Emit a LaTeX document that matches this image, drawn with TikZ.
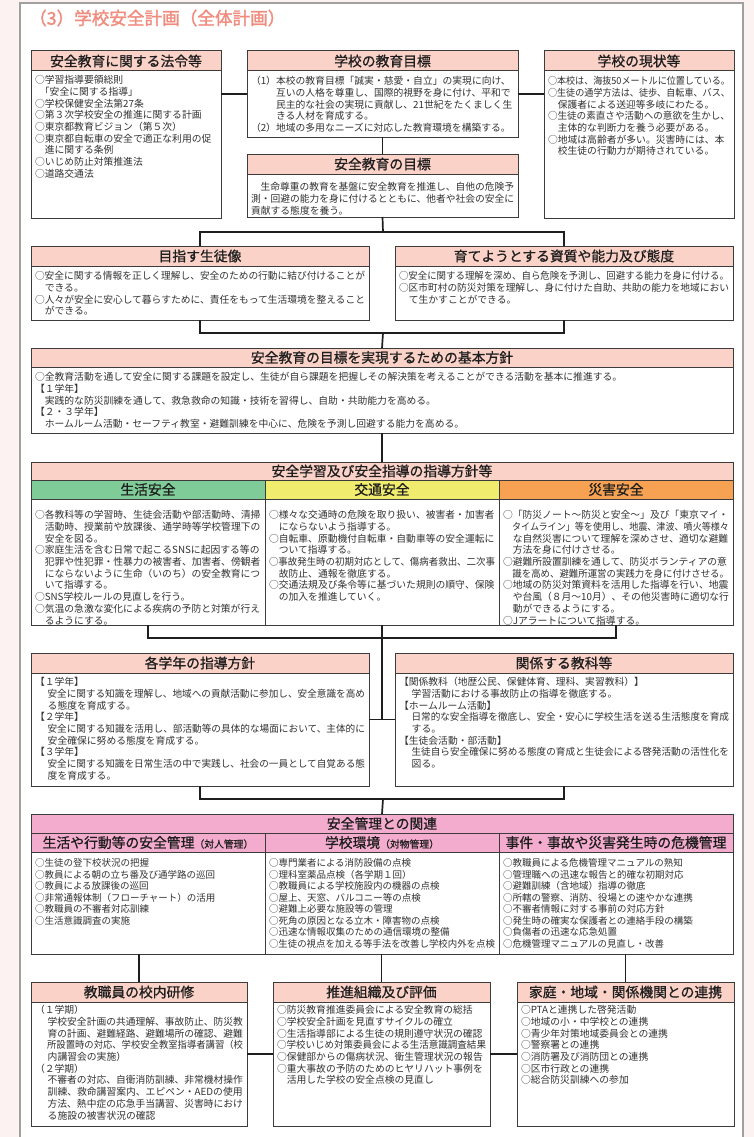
\documentclass[tikz,border=0pt]{standalone}
\usepackage{fontspec}
\usepackage{graphicx}
\setmainfont{Noto Sans CJK JP}
\newfontfamily\hdfont[FakeBold=0.8]{Noto Sans CJK JP}
\newfontfamily\ttlfont[FakeBold=1.6]{Noto Sans CJK JP}
\definecolor{bgpink}{RGB}{252,242,242}
\definecolor{framec}{RGB}{160,160,160}
\definecolor{boxc}{RGB}{60,60,60}
\definecolor{headc}{RGB}{251,210,200}
\definecolor{pinkc}{RGB}{244,172,206}
\definecolor{greenc}{RGB}{128,204,152}
\definecolor{yellowc}{RGB}{240,236,110}
\definecolor{orangec}{RGB}{246,162,82}
\definecolor{titlec}{RGB}{240,140,125}
\definecolor{bodyc}{RGB}{50,50,50}
\definecolor{headtext}{RGB}{30,30,30}
\definecolor{connc}{RGB}{30,30,30}
\newlength\bw
\newsavebox\lbox
\newcommand\fl[1]{\sbox\lbox{#1}\ifdim\wd\lbox>\bw\resizebox{\bw}{\height}{\usebox\lbox}\else\usebox\lbox\fi}
\newcommand\ind{\hspace*{1em}}
\newcommand\indb{\hspace*{1.3em}}
\tikzset{
  boxst/.style={draw=boxc, line width=1pt, fill=white, inner sep=0pt, outer sep=0pt},
  headst/.style={draw=boxc, line width=1pt, fill=headc, inner sep=0pt, outer sep=0pt, text=headtext, font={\hdfont\fontsize{13.8}{16}\selectfont}},
  bodyt/.style={anchor=north west, inner sep=0pt, outer sep=0pt, align=left, text=bodyc, font={\fontsize{9.8}{11.7}\selectfont}},
  bodys/.style={bodyt, font={\fontsize{9.5}{11.5}\selectfont}},
  conn/.style={draw=connc, line width=1.7pt},
}
% [header style] name, x1, y1, x2, y2, header bottom
\newcommand\pbox[7][]{%
  \node[boxst, minimum width={(#5-#3)*1pt}, minimum height={(#6-#4)*1pt}] (#2) at ({(#3+#5)/2},{(#4+#6)/2}) {};
  \node[headst, #1, minimum width={(#5-#3)*1pt}, minimum height={(#7-#4)*1pt}] (#2h) at ({(#3+#5)/2},{(#4+#7)/2}) {\csname hd@#2\endcsname};
}
\newcommand\hd[2]{\expandafter\def\csname hd@#1\endcsname{#2}}
% [style] name, x, first-line centre y, width, lines
\newcommand\bodyat[6][bodyt]{\global\bw=#5pt\relax
  \node[#1] (#2) at (#3,{#4-4.9}) {\vrule height 8.6pt width 0pt\relax#6};}
\begin{document}
\begin{tikzpicture}[x=1pt,y=-1pt]
\useasboundingbox (0,0) rectangle (754,1137);
\fill[bgpink] (0,0) rectangle (754,1137);
\fill[white] (20,3) rectangle (743,1137);
\draw[framec, line width=2pt] (20,1140) -- (20,3) -- (743,3) -- (743,1140);

\node[anchor=west, inner sep=0pt, text=titlec, font={\ttlfont\fontsize{17.6}{19}\selectfont}] (title) at (29,18) {（3）学校安全計画（全体計画）};

% ---- top row
\hd{b1}{安全教育に関する法令等}
\pbox{b1}{31}{51}{221}{218}{71}
\hd{b2}{学校の教育目標}
\pbox{b2}{247}{51}{518}{137}{71}
\hd{b3}{安全教育の目標}
\pbox{b3}{247}{154}{518}{217}{174}
\hd{b4}{学校の現状等}
\pbox{b4}{544}{51}{734}{218}{71}

\bodyat{t1}{35}{80}{182}{%
\fl{○学習指導要領総則}\\
\fl{\hspace*{0.5em}「安全に関する指導」}\\
\fl{○学校保健安全法第27条}\\
\fl{○第３次学校安全の推進に関する計画}\\
\fl{○東京都教育ビジョン（第５次）}\\
\fl{○東京都自転車の安全で適正な利用の促}\\
\fl{\ind 進に関する条例}\\
\fl{○いじめ防止対策推進法}\\
\fl{○道路交通法}}

\bodyat{t2}{251}{81}{263}{%
\fl{（1）本校の教育目標「誠実・慈愛・自立」の実現に向け、}\\
\fl{\phantom{（1）}互いの人格を尊重し、国際的視野を身に付け、平和で}\\
\fl{\phantom{（1）}民主的な社会の実現に貢献し、21世紀をたくましく生}\\
\fl{\phantom{（1）}きる人材を育成する。}\\
\fl{（2）地域の多用なニーズに対応した教育環境を構築する。}}

\bodyat{t3}{251}{187}{263}{%
\fl{\ind 生命尊重の教育を基盤に安全教育を推進し、自他の危険予}\\
\fl{測・回避の能力を身に付けるとともに、他者や社会の安全に}\\
\fl{貢献する態度を養う。}}

\bodyat{t4}{548}{81}{182}{%
\fl{○本校は、海抜50メートルに位置している。}\\
\fl{○生徒の通学方法は、徒歩、自転車、バス、}\\
\fl{\ind 保護者による送迎等多岐にわたる。}\\
\fl{○生徒の素直さや活動への意欲を生かし、}\\
\fl{\ind 主体的な判断力を養う必要がある。}\\
\fl{○地域は高齢者が多い。災害時には、本}\\
\fl{\ind 校生徒の行動力が期待されている。}}

% ---- second row
\hd{m}{目指す生徒像}
\pbox{m}{31}{246}{369}{320}{266}
\hd{s}{育てようとする資質や能力及び態度}
\pbox{s}{395}{246}{733}{320}{266}

\bodyat{tm}{35}{276}{330}{%
\fl{○安全に関する情報を正しく理解し、安全のための行動に結び付けることが}\\
\fl{\ind できる。}\\
\fl{○人々が安全に安心して暮らすために、責任をもって生活環境を整えること}\\
\fl{\ind ができる。}}

\bodyat{ts}{399}{276}{330}{%
\fl{○安全に関する理解を深め、自ら危険を予測し、回避する能力を身に付ける。}\\
\fl{○区市町村の防災対策を理解し、身に付けた自助、共助の能力を地域におい}\\
\fl{\ind て生かすことができる。}}

% ---- basic policy
\hd{bp}{安全教育の目標を実現するための基本方針}
\pbox{bp}{31}{348}{733}{433}{367}
\bodyat{tbp}{35}{377}{694}{%
\fl{○全教育活動を通して安全に関する課題を設定し、生徒が自ら課題を把握しその解決策を考えることができる活動を基本に推進する。}\\
\fl{【１学年】}\\
\fl{\ind 実践的な防災訓練を通して、救急救命の知識・技術を習得し、自助・共助能力を高める。}\\
\fl{【２・３学年】}\\
\fl{\ind ホームルーム活動・セーフティ教室・避難訓練を中心に、危険を予測し回避する能力を高める。}}

% ---- safety learning
\hd{sl}{安全学習及び安全指導の指導方針等}
\pbox{sl}{31}{462}{733}{625}{480}
\node[headst, fill=greenc, minimum width=234pt, minimum height=19pt] (c1h) at (148,489.5) {生活安全};
\node[headst, fill=yellowc, minimum width=234pt, minimum height=19pt] (c2h) at (382,489.5) {交通安全};
\node[headst, fill=orangec, minimum width=234pt, minimum height=19pt] (c3h) at (616,489.5) {災害安全};
\node[boxst, minimum width=234pt, minimum height=126pt] (c1) at (148,562) {};
\node[boxst, minimum width=234pt, minimum height=126pt] (c2) at (382,562) {};
\node[boxst, minimum width=234pt, minimum height=126pt] (c3) at (616,562) {};

\bodyat{tc1}{35}{515}{226}{%
\fl{○各教科等の学習時、生徒会活動や部活動時、清掃}\\
\fl{\ind 活動時、授業前や放課後、通学時等学校管理下の}\\
\fl{\ind 安全を図る。}\\
\fl{○家庭生活を含む日常で起こるSNSに起因する等の}\\
\fl{\ind 犯罪や性犯罪・性暴力の被害者、加害者、傍観者}\\
\fl{\ind にならないように生命（いのち）の安全教育につ}\\
\fl{\ind いて指導する。}\\
\fl{○SNS学校ルールの見直しを行う。}\\
\fl{○気温の急激な変化による疾病の予防と対策が行え}\\
\fl{\ind るようにする。}}

\bodyat{tc2}{269}{515}{226}{%
\fl{○様々な交通時の危険を取り扱い、被害者・加害者}\\
\fl{\ind にならないよう指導する。}\\
\fl{○自転車、原動機付自転車・自動車等の安全運転に}\\
\fl{\ind ついて指導する。}\\
\fl{○事故発生時の初期対応として、傷病者救出、二次事}\\
\fl{\ind 故防止、通報を徹底する。}\\
\fl{○交通法規及び条令等に基づいた規則の順守、保険}\\
\fl{\ind の加入を推進していく。}}

\bodyat{tc3}{503}{515}{226}{%
\fl{○「防災ノート～防災と安全～」及び「東京マイ・}\\
\fl{\ind タイムライン」等を使用し、地震、津波、噴火等様々}\\
\fl{\ind な自然災害について理解を深めさせ、適切な避難}\\
\fl{\ind 方法を身に付けさせる。}\\
\fl{○避難所設置訓練を通して、防災ボランティアの意}\\
\fl{\ind 識を高め、避難所運営の実践力を身に付けさせる。}\\
\fl{○地域の防災対策資料を活用した指導を行い、地震}\\
\fl{\ind や台風（８月～10月）、その他災害時に適切な行}\\
\fl{\ind 動ができるようにする。}\\
\fl{○Jアラートについて指導する。}}

% ---- grade policies
\hd{gr}{各学年の指導方針}
\pbox{gr}{31}{653}{369}{786}{673}
\hd{rel}{関係する教科等}
\pbox{rel}{395}{653}{733}{786}{673}

\bodyat{tgr}{35}{682}{330}{%
\fl{【１学年】}\\
\fl{\indb 安全に関する知識を理解し、地域への貢献活動に参加し、安全意識を高め}\\
\fl{\indb る態度を育成する。}\\
\fl{【２学年】}\\
\fl{\indb 安全に関する知識を活用し、部活動等の具体的な場面において、主体的に}\\
\fl{\indb 安全確保に努める態度を育成する。}\\
\fl{【３学年】}\\
\fl{\indb 安全に関する知識を日常生活の中で実践し、社会の一員として自覚ある態}\\
\fl{\indb 度を育成する。}}

\bodyat{trel}{399}{682}{330}{%
\fl{【関係教科（地歴公民、保健体育、理科、実習教科）】}\\
\fl{\indb 学習活動における事故防止の指導を徹底する。}\\
\fl{【ホームルーム活動】}\\
\fl{\indb 日常的な安全指導を徹底し、安全・安心に学校生活を送る生活態度を育成}\\
\fl{\indb する。}\\
\fl{【生徒会活動・部活動】}\\
\fl{\indb 生徒自ら安全確保に努める態度の育成と生徒会による啓発活動の活性化を}\\
\fl{\indb 図る。}}

% ---- safety management
\hd{sm}{安全管理との関連}
\pbox[fill=pinkc]{sm}{31}{814}{733}{954}{833}
\node[headst, fill=pinkc, minimum width=234pt, minimum height=19pt] (s1h) at (148,842.5) {生活や行動等の安全管理{\fontsize{9.8}{11}\selectfont （対人管理）}};
\node[headst, fill=pinkc, minimum width=234pt, minimum height=19pt] (s2h) at (382,842.5) {学校環境{\fontsize{9.8}{11}\selectfont （対物管理）}};
\node[headst, fill=pinkc, minimum width=234pt, minimum height=19pt] (s3h) at (616,842.5) {事件・事故や災害発生時の危機管理};
\node[boxst, minimum width=234pt, minimum height=102pt] (sc1) at (148,903) {};
\node[boxst, minimum width=234pt, minimum height=102pt] (sc2) at (382,903) {};
\node[boxst, minimum width=234pt, minimum height=102pt] (sc3) at (616,903) {};

\bodyat[bodys]{ts1}{35}{863}{226}{%
\fl{○生徒の登下校状況の把握}\\
\fl{○教員による朝の立ち番及び通学路の巡回}\\
\fl{○教員による放課後の巡回}\\
\fl{○非常通報体制（フローチャート）の活用}\\
\fl{○教職員の不審者対応訓練}\\
\fl{○生活意識調査の実施}}

\bodyat[bodys]{ts2}{269}{863}{226}{%
\fl{○専門業者による消防設備の点検}\\
\fl{○理科室薬品点検（各学期１回）}\\
\fl{○教職員による学校施設内の機器の点検}\\
\fl{○屋上、天窓、バルコニー等の点検}\\
\fl{○避難上必要な施設等の管理}\\
\fl{○死角の原因となる立木・障害物の点検}\\
\fl{○迅速な情報収集のための通信環境の整備}\\
\fl{○生徒の視点を加える等手法を改善し学校内外を点検}}

\bodyat[bodys]{ts3}{503}{863}{226}{%
\fl{○教職員による危機管理マニュアルの熟知}\\
\fl{○管理職への迅速な報告と的確な初期対応}\\
\fl{○避難訓練（含地域）指導の徹底}\\
\fl{○所轄の警察、消防、役場との速やかな連携}\\
\fl{○不審者情報に対する事前の対応方針}\\
\fl{○発生時の確実な保護者との連絡手段の構築}\\
\fl{○負傷者の迅速な応急処置}\\
\fl{○危機管理マニュアルの見直し・改善}}

% ---- bottom row
\hd{kk}{教職員の校内研修}
\pbox{kk}{31}{982}{247}{1126}{1002}
\hd{sh}{推進組織及び評価}
\pbox{sh}{273}{982}{490}{1126}{1002}
\hd{kt}{家庭・地域・関係機関との連携}
\pbox{kt}{517}{982}{734}{1126}{1002}

\bodyat{tkk}{35}{1010}{208}{%
\fl{（１学期）}\\
\fl{\indb 学校安全計画の共通理解、事故防止、防災教}\\
\fl{\indb 育の計画、避難経路、避難場所の確認、避難}\\
\fl{\indb 所設置時の対応、学校安全教室指導者講習（校}\\
\fl{\indb 内講習会の実施）}\\
\fl{（２学期）}\\
\fl{\indb 不審者の対応、自衛消防訓練、非常機材操作}\\
\fl{\indb 訓練、救命講習案内、エピペン・AEDの使用}\\
\fl{\indb 方法、熱中症の応急手当講習、災害時におけ}\\
\fl{\indb る施設の被害状況の確認}}

\bodyat{tsh}{277}{1010}{209}{%
\fl{○防災教育推進委員会による安全教育の総括}\\
\fl{○学校安全計画を見直すサイクルの確立}\\
\fl{○生活指導部による生徒の規則遵守状況の確認}\\
\fl{○学校いじめ対策委員会による生活意識調査結果}\\
\fl{○保健部からの傷病状況、衛生管理状況の報告}\\
\fl{○重大事故の予防のためのヒヤリハット事例を}\\
\fl{\ind 活用した学校の安全点検の見直し}}

\bodyat{tkt}{521}{1010}{209}{%
\fl{○PTAと連携した啓発活動}\\
\fl{○地域の小・中学校との連携}\\
\fl{○青少年対策地域委員会との連携}\\
\fl{○警察署との連携}\\
\fl{○消防署及び消防団との連携}\\
\fl{○区市行政との連携}\\
\fl{○総合防災訓練への参加}}

% ---- connectors
\coordinate (j1) at (383,232);
\coordinate (j2) at (383,333);
\coordinate (j3) at (383,638);
\coordinate (j5) at (383,799);
\draw[conn] (b1.east |- b2.west) -- (b2.west);
\draw[conn] (b2.east) -- (b2.east -| b4.west);
\draw[conn] (b2.south) -- (b3.north);
\draw[conn] (b3.south) -- (j1);
\draw[conn] (m.north) |- (j1) -| (s.north);
\draw[conn] (m.south) |- (j2) -| (s.south);
\draw[conn] (j2) -- (bp.north);
\draw[conn] (bp.south) -- (sl.north);
\draw[conn] (c1.south) |- (j3) -| (c3.south);
\draw[conn] (c2.south) -- (c2.south |- gr.east);
\draw[conn] (gr.east) -- (rel.west);
\draw[conn] (gr.south) |- (j5) -| (rel.south);
\draw[conn] (j5) -- (sm.north);
\draw[conn] (kk.north) -- (kk.north |- sc1.south);
\draw[conn] (sh.north) -- (sh.north |- sc2.south);
\draw[conn] (kt.north) -- (kt.north |- sc3.south);
\draw[conn] (kk.east) -- (sh.west);
\draw[conn] (sh.east) -- (kt.west);
\end{tikzpicture}
\end{document}
